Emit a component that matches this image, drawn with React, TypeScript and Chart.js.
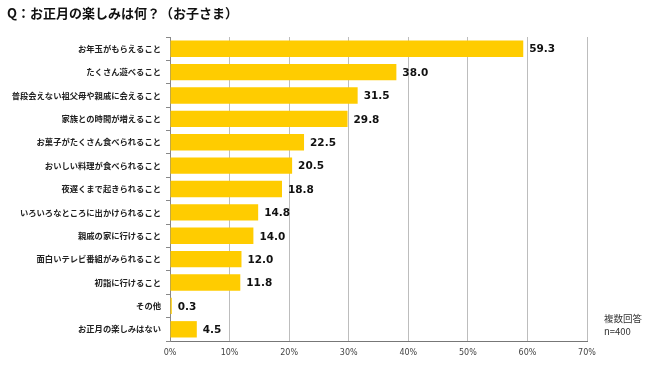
import React, { useEffect, useRef } from "react";
import { Chart, registerables } from "chart.js";

Chart.register(...registerables);

const titleText = "Q：お正月の楽しみは何？（お子さま）";
const categories = [
  "お年玉がもらえること",
  "たくさん遊べること",
  "普段会えない祖父母や親戚に会えること",
  "家族との時間が増えること",
  "お菓子がたくさん食べられること",
  "おいしい料理が食べられること",
  "夜遅くまで起きられること",
  "いろいろなところに出かけられること",
  "親戚の家に行けること",
  "面白いテレビ番組がみられること",
  "初詣に行けること",
  "その他",
  "お正月の楽しみはない",
];
const values = [59.3, 38.0, 31.5, 29.8, 22.5, 20.5, 18.8, 14.8, 14.0, 12.0, 11.8, 0.3, 4.5];
const noteLines = ["複数回答", "n=400"];
const xMax = 70;
const xStep = 10;

const FONT = "'DejaVu Sans', 'Noto Sans CJK JP', sans-serif";

const overlayPlugin = {
  id: "overlay",
  afterDatasetsDraw(chart: any) {
    const ctx = chart.ctx;
    const meta = chart.getDatasetMeta(0);
    ctx.save();
    ctx.fillStyle = "#111";
    ctx.font = `bold 10.5px ${FONT}`;
    ctx.textBaseline = "middle";
    ctx.textAlign = "left";
    meta.data.forEach((bar: any, i: number) => {
      ctx.fillText(values[i].toFixed(1), bar.x + 6, bar.y + 1);
    });
    // title
    ctx.font = `bold 13px 'Noto Sans CJK JP', sans-serif`;
    ctx.textBaseline = "alphabetic";
    ctx.fillStyle = "#111";
    ctx.fillText(titleText, 7, 18);
    // note
    ctx.font = `9.5px 'Noto Sans CJK JP', sans-serif`;
    ctx.fillStyle = "#333";
    noteLines.forEach((t, i) => ctx.fillText(t, 604, 322 + i * 12.5));
    ctx.restore();
  },
};

export default function App() {
  const ref = useRef<HTMLCanvasElement>(null);
  useEffect(() => {
    document.body.style.margin = "0";
    const chart = new Chart(ref.current!, {
      type: "bar",
      data: {
        labels: categories,
        datasets: [
          {
            data: values,
            backgroundColor: "#FFCC00",
            borderWidth: 0,
            categoryPercentage: 0.7,
            barPercentage: 1,
          },
        ],
      },
      options: {
        indexAxis: "y",
        animation: false,
        responsive: false,
        layout: { padding: { left: 0, top: 37, right: 63, bottom: 9 } },
        plugins: { legend: { display: false }, tooltip: { enabled: false } },
        scales: {
          x: {
            min: 0,
            max: xMax,
            ticks: {
              stepSize: xStep,
              callback: (v: any) => v + "%",
              font: { family: FONT, size: 8 },
              color: "#444",
              padding: 7,
            },
            grid: { color: "#bdbdbd", drawTicks: false },
            border: { color: "#777" },
            afterFit: (s: any) => {
              s.height = 20;
            },
          },
          y: {
            offset: true,
            ticks: {
              font: { family: "'Noto Sans CJK JP', sans-serif", size: 8.3, weight: "bold" },
              color: "#222",
              padding: 5,
              autoSkip: false,
            },
            grid: { drawOnChartArea: false, offset: true, tickLength: 4, color: "#888" },
            border: { color: "#888" },
            afterFit: (s: any) => {
              s.width = 170;
            },
          },
        },
      },
      plugins: [overlayPlugin],
    });
    return () => chart.destroy();
  }, []);
  return <canvas ref={ref} width={650} height={370} style={{ display: "block" }} />;
}
